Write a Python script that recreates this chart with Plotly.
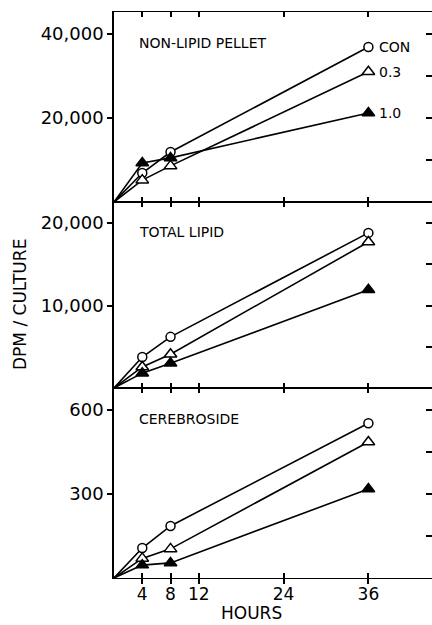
import plotly.graph_objects as go

hours = [0, 4, 8, 36]
x_ticks = [4, 8, 12, 24, 36]

series_names = ["CON", "0.3", "1.0"]

pellet_con = [0, 6900, 11900, 36900]
pellet_03 = [0, 5200, 8600, 31000]
pellet_10 = [0, 9300, 10500, 21200]

lipid_con = [0, 3760, 6200, 18800]
lipid_03 = [0, 2550, 4100, 17700]
lipid_10 = [0, 1800, 3000, 11900]

cereb_con = [0, 107, 186, 553]
cereb_03 = [0, 70, 104, 486]
cereb_10 = [0, 46, 54, 318]

panel_titles = ["NON-LIPID PELLET", "TOTAL LIPID", "CEREBROSIDE"]
pellet_ticks = [20000, 40000]
pellet_ticktext = ["20,000", "40,000"]
lipid_ticks = [10000, 20000]
lipid_ticktext = ["10,000", "20,000"]
cereb_ticks = [300, 600]
cereb_ticktext = ["300", "600"]

FONT = "DejaVu Sans"
W, HT = 432, 625
L, T, R, B = 114, 12, 0, 625 - 578
PW = W - L - R
H = HT - T - B
d1 = 190 / H
d2 = 376 / H

styles = {
    "CON": dict(symbol="circle", size=9, fill="white"),
    "0.3": dict(symbol="triangle-up", size=11, fill="white"),
    "1.0": dict(symbol="triangle-up", size=11, fill="black"),
}

fig = go.Figure()

panels = [
    ("x", "y", [pellet_con, pellet_03, pellet_10]),
    ("x2", "y2", [lipid_con, lipid_03, lipid_10]),
    ("x3", "y3", [cereb_con, cereb_03, cereb_10]),
]

for xa, ya, vals in panels:
    for name, v in zip(series_names, vals):
        st = styles[name]
        fig.add_trace(go.Scatter(
            x=hours, y=v, mode="lines+markers", xaxis=xa, yaxis=ya,
            line=dict(color="black", width=1.6),
            marker=dict(symbol=st["symbol"], size=[0] + [st["size"]] * (len(hours) - 1),
                        color=st["fill"], opacity=1,
                        line=dict(color="black", width=1.5)),
            showlegend=False, hoverinfo="skip",
        ))

# empty traces so the extra (tick-only) axes are registered and drawn
for xa, ya in [("x", "y4"), ("x2", "y5"), ("x3", "y6"), ("x4", "y3")]:
    fig.add_trace(go.Scatter(x=[None], y=[None], xaxis=xa, yaxis=ya, mode="markers",
                             showlegend=False, hoverinfo="skip"))

xcommon = dict(range=[0, 45], tickvals=x_ticks, ticks="inside", ticklen=5, tickwidth=1.5,
               tickcolor="black", showline=True, linecolor="black", linewidth=1.3,
               mirror="ticks", showgrid=False, zeroline=False)

ycommon = dict(ticks="outside", ticklen=5, tickwidth=1.5, tickcolor="black",
               showline=True, linecolor="black", linewidth=1.5, showgrid=False,
               zeroline=False, tickfont=dict(family=FONT, size=18, color="black"))

yright = dict(ticks="inside", ticklen=6, tickwidth=1.5, tickcolor="black",
              showline=False, showgrid=False, zeroline=False, showticklabels=False,
              side="right")

fig.update_layout(
    width=W, height=HT,
    margin=dict(l=L, r=R, t=T, b=B),
    paper_bgcolor="white", plot_bgcolor="white",
    font=dict(family=FONT, color="black"),
    xaxis=dict(**xcommon, anchor="y", showticklabels=False),
    xaxis2=dict(**xcommon, anchor="y2", showticklabels=False),
    xaxis3=dict(**xcommon, anchor="y3", showticklabels=True,
                tickfont=dict(family=FONT, size=17, color="black")),
    xaxis4=dict(range=[0, 45], tickvals=x_ticks, ticks="outside", ticklen=5, tickwidth=1.5,
                tickcolor="black", showline=False, showgrid=False, zeroline=False,
                showticklabels=False, overlaying="x3", anchor="y3"),
    yaxis=dict(**ycommon, domain=[d2, 1], range=[0, 45238], anchor="x",
               tickvals=pellet_ticks, ticktext=pellet_ticktext),
    yaxis2=dict(**ycommon, domain=[d1, d2], range=[0, 22545], anchor="x2",
                tickvals=lipid_ticks, ticktext=lipid_ticktext),
    yaxis3=dict(**ycommon, domain=[0, d1], range=[0, 678.6], anchor="x3",
                tickvals=cereb_ticks, ticktext=cereb_ticktext),
    yaxis4=dict(**yright, range=[0, 45238], dtick=10000, overlaying="y", anchor="x"),
    yaxis5=dict(**yright, range=[0, 22545], dtick=5000, overlaying="y2", anchor="x2"),
    yaxis6=dict(**yright, range=[0, 678.6], dtick=150, overlaying="y3", anchor="x3"),
)

# panel titles
for (xa, ya, _), title in zip(panels, panel_titles):
    fig.add_annotation(text=title, xref=f"{xa} domain", yref=f"{ya} domain",
                       x=0.072, y=0.837, xanchor="left", yanchor="middle",
                       showarrow=False, font=dict(family=FONT, size=14, color="black"))

# series labels in top panel
for name, v in zip(series_names, [pellet_con, pellet_03, pellet_10]):
    fig.add_annotation(text=name, xref="x", yref="y", x=hours[-1], y=v[-1],
                       xanchor="left", yanchor="middle", xshift=9, showarrow=False,
                       font=dict(family=FONT, size=14, color="black"))

fig.add_annotation(text="DPM / CULTURE", xref="paper", yref="paper",
                   x=(20 - L) / PW, y=(578 - 305) / H, textangle=-90,
                   xanchor="center", yanchor="middle", showarrow=False,
                   font=dict(family=FONT, size=17, color="black"))
fig.add_annotation(text="HOURS", xref="paper", yref="paper",
                   x=(251 - L) / PW, y=(578 - 613) / H,
                   xanchor="center", yanchor="middle", showarrow=False,
                   font=dict(family=FONT, size=17, color="black"))

fig.write_html("out.html",
               config={"displayModeBar": False},
               post_script="document.body.style.margin='0px';"
                           "document.body.style.overflow='hidden';")
